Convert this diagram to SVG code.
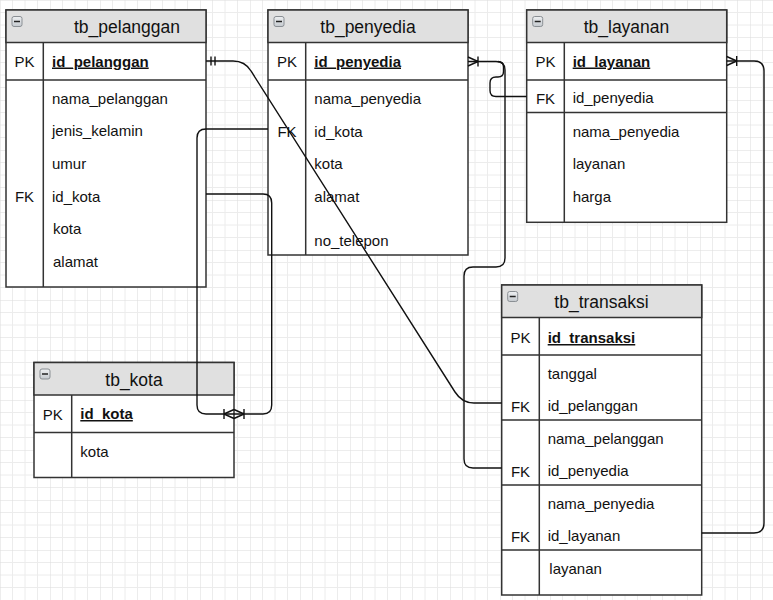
<svg xmlns="http://www.w3.org/2000/svg" width="773" height="600" viewBox="0 0 773 600">
<defs>
<style>
.tb{fill:#ffffff;stroke:#333333;stroke-width:1.5}
.hd{fill:#e0e0e0;stroke:#333333;stroke-width:1.5}
.ln{fill:none;stroke:#333333;stroke-width:1.5}
.ti{font-family:"Liberation Sans",Arial,sans-serif;font-size:17.5px;fill:#111111;text-anchor:middle}
.f{font-family:"Liberation Sans",Arial,sans-serif;font-size:15px;fill:#111111}
.k{font-family:"Liberation Sans",Arial,sans-serif;font-size:15px;fill:#111111;text-anchor:middle}
.pk{font-weight:bold;text-decoration:underline}
.ic{fill:url(#icg);stroke:#8a8f94;stroke-width:1}
.im{stroke:#222222;stroke-width:1.5}
.c{fill:none;stroke:#111111;stroke-width:1.4}
.mk{fill:none;stroke:#111111;stroke-width:1.4}
</style>
<linearGradient id="icg" x1="0" y1="0" x2="0" y2="1">
<stop offset="0" stop-color="#eef0f2"/>
<stop offset="1" stop-color="#c4c9ce"/>
</linearGradient>
<pattern id="grid" x="0" y="0" width="50" height="50" patternUnits="userSpaceOnUse">
<path d="M12.5,0V50M25,0V50M37.5,0V50M0,12.5H50M0,25H50M0,37.5H50" stroke="#ececec" stroke-width="1" fill="none"/>
<path d="M0,0V50M0,0H50" stroke="#dcdcdc" stroke-width="1" fill="none"/>
</pattern>
<marker id="many" viewBox="-12 -6 14 12" markerWidth="14" markerHeight="12" refX="0" refY="0" orient="auto" markerUnits="userSpaceOnUse">
<path class="mk" d="M-10,0L0,-4.5M-10,0L0,4.5M-10,-5V5"/>
</marker>
<marker id="one" viewBox="0 -6 12 12" markerWidth="12" markerHeight="12" refX="0" refY="0" orient="auto" markerUnits="userSpaceOnUse">
<path class="mk" d="M5,-4.5V4.5M9,-4.5V4.5"/>
</marker>
</defs>
<rect width="773" height="600" fill="#ffffff"/>
<rect width="773" height="600" fill="url(#grid)"/>

<g id="tb_pelanggan">
<rect class="tb" x="6" y="10" width="200" height="277"/>
<rect class="hd" x="6" y="10" width="200" height="32.5"/>
<path class="ln" d="M6,80H206M43.3,42.5V287"/>
<rect class="ic" x="12" y="16.5" width="10" height="10" rx="2"/>
<path class="im" d="M14,21.5H20"/>
<text class="ti" x="127" y="33">tb_pelanggan</text>
<text class="k" x="24.5" y="67">PK</text>
<text class="f pk" x="52" y="66.5">id_pelanggan</text>
<text class="f" x="52" y="103.5">nama_pelanggan</text>
<text class="f" x="52" y="136">jenis_kelamin</text>
<text class="f" x="52" y="168.5">umur</text>
<text class="k" x="24.5" y="202">FK</text>
<text class="f" x="52" y="201.5">id_kota</text>
<text class="f" x="53" y="234">kota</text>
<text class="f" x="53" y="266.5">alamat</text>
</g>

<g id="tb_penyedia">
<rect class="tb" x="268" y="10" width="200" height="245"/>
<rect class="hd" x="268" y="10" width="200" height="32.5"/>
<path class="ln" d="M268,80H468M305.7,42.5V255"/>
<rect class="ic" x="274" y="16.5" width="10" height="10" rx="2"/>
<path class="im" d="M276,21.5H282"/>
<text class="ti" x="368" y="33">tb_penyedia</text>
<text class="k" x="287" y="67">PK</text>
<text class="f pk" x="314.3" y="66.5">id_penyedia</text>
<text class="f" x="314.3" y="103.5">nama_penyedia</text>
<text class="k" x="287" y="137">FK</text>
<text class="f" x="314.3" y="136.5">id_kota</text>
<text class="f" x="314.3" y="169">kota</text>
<text class="f" x="314.3" y="201.5">alamat</text>
<text class="f" x="314.3" y="246">no_telepon</text>
</g>

<g id="tb_layanan">
<rect class="tb" x="526.7" y="10" width="200" height="212.3"/>
<rect class="hd" x="526.7" y="10" width="200" height="32.5"/>
<path class="ln" d="M526.7,80H726.7M526.7,112.5H726.7M564.3,42.5V222.3"/>
<rect class="ic" x="532.7" y="16.5" width="10" height="10" rx="2"/>
<path class="im" d="M534.7,21.5H540.7"/>
<text class="ti" x="626.5" y="33">tb_layanan</text>
<text class="k" x="545.5" y="67">PK</text>
<text class="f pk" x="572.7" y="66.5">id_layanan</text>
<text class="k" x="545.5" y="103.5">FK</text>
<text class="f" x="572.7" y="103">id_penyedia</text>
<text class="f" x="572.7" y="136.5">nama_penyedia</text>
<text class="f" x="572.7" y="169">layanan</text>
<text class="f" x="572.7" y="201.5">harga</text>
</g>

<g id="tb_kota">
<rect class="tb" x="34" y="362.5" width="200" height="115"/>
<rect class="hd" x="34" y="362.5" width="200" height="32.5"/>
<path class="ln" d="M34,432.5H234M71.7,395V477.5"/>
<rect class="ic" x="40" y="369" width="10" height="10" rx="2"/>
<path class="im" d="M42,374H48"/>
<text class="ti" x="134" y="385.5">tb_kota</text>
<text class="k" x="52.8" y="419.5">PK</text>
<text class="f pk" x="80.3" y="419">id_kota</text>
<text class="f" x="80.3" y="457">kota</text>
</g>

<g id="tb_transaksi">
<rect class="tb" x="501.7" y="285" width="200" height="310"/>
<rect class="hd" x="501.7" y="285" width="200" height="32.5"/>
<path class="ln" d="M501.7,355H701.7M501.7,420H701.7M501.7,485H701.7M501.7,550H701.7M539.3,317.5V595"/>
<rect class="ic" x="507.7" y="291.5" width="10" height="10" rx="2"/>
<path class="im" d="M509.7,296.5H515.7"/>
<text class="ti" x="601.5" y="308">tb_transaksi</text>
<text class="k" x="520.5" y="343">PK</text>
<text class="f pk" x="547.7" y="343">id_transaksi</text>
<text class="f" x="547.7" y="378.5">tanggal</text>
<text class="k" x="520.5" y="411.5">FK</text>
<text class="f" x="547.7" y="411">id_pelanggan</text>
<text class="f" x="547.7" y="443.5">nama_pelanggan</text>
<text class="k" x="520.5" y="476.5">FK</text>
<text class="f" x="547.7" y="476">id_penyedia</text>
<text class="f" x="547.7" y="508.5">nama_penyedia</text>
<text class="k" x="520.5" y="541.5">FK</text>
<text class="f" x="547.7" y="541">id_layanan</text>
<text class="f" x="549.3" y="573.5">layanan</text>
</g>

<g id="connectors">
<path class="c" marker-start="url(#one)" d="M206,61H233Q245,61 251,71L455,392Q462,403 474,403H501.7"/>
<path class="c" marker-end="url(#many)" d="M268,129H206Q197,129 197,138V405Q197,414 206,414H234"/>
<path class="c" marker-end="url(#many)" d="M206,194H263Q271.7,194 271.7,203V405Q271.7,414 263,414H234"/>
<path class="c" marker-end="url(#many)" d="M501.7,468H473Q464,468 464,459V276Q464,267 473,267H496Q505,267 505,258V70Q505,61.5 496,61.5H468"/>
<path class="c" d="M526.7,96.5H496Q490,96.5 490,90.5V83Q490,77 496,77H498Q503.5,77 503.5,71.5V67Q503.5,61.5 498,61.5"/>
<path class="c" marker-end="url(#many)" d="M701.7,533H754Q764,533 764,523V71Q764,61 754,61H726.7"/>
</g>
</svg>
